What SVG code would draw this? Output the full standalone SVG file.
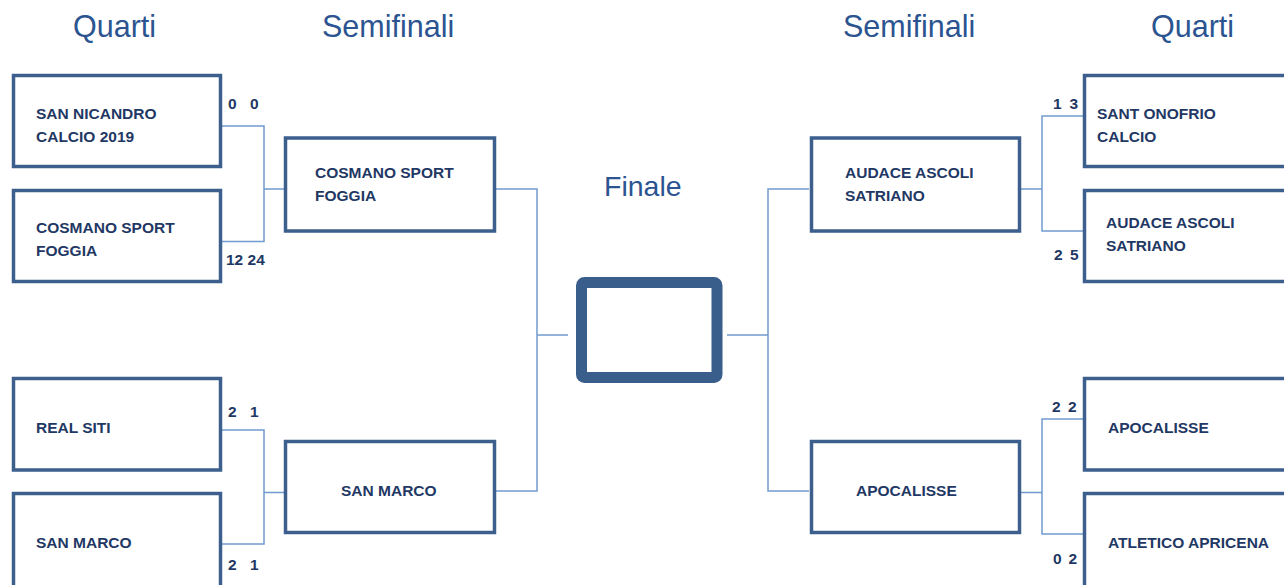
<svg xmlns="http://www.w3.org/2000/svg" width="1284" height="585" viewBox="0 0 1284 585">
<style>
.box{fill:#fff;stroke:#3D5F8D;stroke-width:3.5}
.fin{fill:#fff;stroke:#3A5E8C;stroke-width:11}
.con{fill:none;stroke:#729AD0;stroke-width:1.5}
.team{font-family:"Liberation Sans",Arial,sans-serif;font-weight:bold;font-size:15.5px;fill:#1F3864}
.score{font-family:"Liberation Sans",Arial,sans-serif;font-weight:bold;font-size:15.5px;fill:#1F3864}
.title{font-family:"Liberation Sans",Arial,sans-serif;font-size:30.5px;fill:#2B5491}
</style>
<rect width="1284" height="585" fill="#fff"/>
<g id="titles">
<text class="title" x="73" y="37">Quarti</text>
<text class="title" x="322" y="37">Semifinali</text>
<text class="title" x="843" y="37">Semifinali</text>
<text class="title" x="1151" y="37">Quarti</text>
<text class="title" x="604" y="196" style="font-size:28.5px">Finale</text>
</g>
<g id="connectors">
<path class="con" d="M222,126 H264 V241.5 H222 M264,189 H285"/>
<path class="con" d="M222,430 H264 V544 H222 M264,492.5 H285"/>
<path class="con" d="M495,189 H537 V491 H495 M537,335 H568"/>
<path class="con" d="M809,189 H768 V491 H809 M727,335 H768"/>
<path class="con" d="M1083,116 H1042 V231 H1083 M1021,189 H1042"/>
<path class="con" d="M1083,419 H1042 V534 H1083 M1021,492.5 H1042"/>
</g>
<g id="qf-l1"><rect class="box" x="13.5" y="75.5" width="207" height="91"/>
<text class="team" x="36" y="119">SAN NICANDRO</text><text class="team" x="36" y="142">CALCIO 2019</text>
<text class="score" x="228" y="109" word-spacing="9">0 0</text></g>
<g id="qf-l2"><rect class="box" x="13.5" y="190.5" width="207" height="91"/>
<text class="team" x="36" y="233">COSMANO SPORT</text><text class="team" x="36" y="256">FOGGIA</text>
<text class="score" x="226" y="265">12 24</text></g>
<g id="qf-l3"><rect class="box" x="13.5" y="378.5" width="207" height="91.5"/>
<text class="team" x="36" y="433">REAL SITI</text>
<text class="score" x="228" y="417" word-spacing="9">2 1</text></g>
<g id="qf-l4"><rect class="box" x="13.5" y="493.5" width="207" height="120"/>
<text class="team" x="36" y="548">SAN MARCO</text>
<text class="score" x="228" y="570" word-spacing="9">2 1</text></g>
<g id="sf-l1"><rect class="box" x="285.5" y="138" width="209" height="93"/>
<text class="team" x="315" y="178">COSMANO SPORT</text><text class="team" x="315" y="201">FOGGIA</text></g>
<g id="sf-l2"><rect class="box" x="285.5" y="441.5" width="209" height="91"/>
<text class="team" x="341" y="496">SAN MARCO</text></g>
<g id="final"><rect class="fin" x="581.5" y="282.5" width="135.5" height="95" rx="3"/></g>
<g id="sf-r1"><rect class="box" x="811.5" y="138" width="208" height="93"/>
<text class="team" x="845" y="178">AUDACE ASCOLI</text><text class="team" x="845" y="201">SATRIANO</text></g>
<g id="sf-r2"><rect class="box" x="811.5" y="441.5" width="208" height="91"/>
<text class="team" x="856" y="496">APOCALISSE</text></g>
<g id="qf-r1"><rect class="box" x="1084.5" y="75.5" width="250" height="91"/>
<text class="team" x="1097" y="119">SANT ONOFRIO</text><text class="team" x="1097" y="142">CALCIO</text>
<text class="score" x="1053" y="109" word-spacing="3.5">1 3</text></g>
<g id="qf-r2"><rect class="box" x="1084.5" y="190.5" width="250" height="91"/>
<text class="team" x="1106" y="228">AUDACE ASCOLI</text><text class="team" x="1106" y="251">SATRIANO</text>
<text class="score" x="1054" y="260" word-spacing="3">2 5</text></g>
<g id="qf-r3"><rect class="box" x="1084.5" y="378.5" width="250" height="91.5"/>
<text class="team" x="1108" y="433">APOCALISSE</text>
<text class="score" x="1052" y="412" word-spacing="3">2 2</text></g>
<g id="qf-r4"><rect class="box" x="1084.5" y="493.5" width="250" height="120"/>
<text class="team" x="1108" y="548">ATLETICO APRICENA</text>
<text class="score" x="1053" y="564" word-spacing="2.5">0 2</text></g>
</svg>
